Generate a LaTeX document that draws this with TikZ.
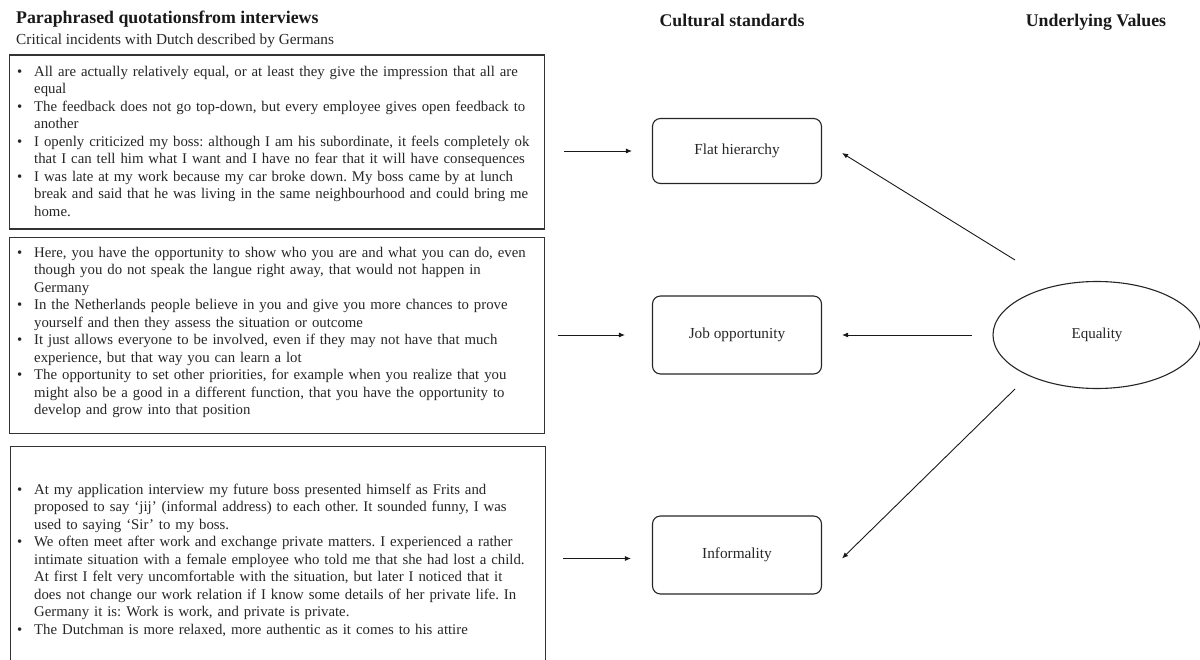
\documentclass[tikz,border=0pt]{standalone}
\usepackage{fontspec}
\setmainfont{Liberation Serif}
\usetikzlibrary{shapes.geometric,calc,arrows.meta}
\newcommand\bul{\par\noindent\hangindent=17pt\hangafter=1\hbox to 17pt{\textbullet\hfil}\ignorespaces}
\begin{document}
\begin{tikzpicture}[x=1pt,y=-1pt,
  qbox/.style={draw=black!80,line width=1.3pt,anchor=north west,inner sep=0pt},
  qtext/.style={anchor=north west,inner sep=0pt,text width=540pt,
    font=\fontsize{14.8}{17.5}\selectfont\frenchspacing,text=black!85},
  stdbox/.style={draw=black!85,line width=1.1pt,rounded corners=8pt,minimum width=169pt,
    font=\fontsize{15.3}{17}\selectfont,text=black!85},
  valnode/.style={ellipse,draw=black!85,line width=1.1pt,minimum width=208pt,minimum height=107pt,
    inner sep=0pt,font=\fontsize{15}{17}\selectfont,text=black!85},
  head/.style={anchor=base,font=\bfseries\fontsize{17.8}{20}\selectfont,text=black!90,inner sep=0pt},
  sub/.style={anchor=base west,font=\fontsize{15.3}{17}\selectfont,text=black!85,inner sep=0pt},
  arr/.style={-{Latex[length=6pt,width=5pt]},line width=0.9pt,draw=black!90}]
\useasboundingbox (0,0) rectangle (1200,660);
% headings
\node[head,anchor=base west] (h1) at (16,24) {Paraphrased quotationsfrom interviews};
\node[sub] (h1s) at (16,45) {Critical incidents with Dutch described by Germans};
\node[head] (h2) at (732,27) {Cultural standards};
\node[head] (h3) at (1096,27) {Underlying Values};
% quotation boxes
\node[qbox,minimum width=535pt,minimum height=174pt] (q1) at (8.5,54.5) {};
\node[qbox,minimum width=535pt,minimum height=196pt] (q2) at (8.5,237) {};
\node[qbox,minimum width=535pt,minimum height=230pt] (q3) at (9.5,446) {};
\node[qtext] (t1) at (17,58.5) {%
\bul All are actually relatively equal, or at least they give the impression that all are\newline equal
\bul The feedback does not go top-down, but every employee gives open feedback to\newline another
\bul I openly criticized my boss: although I am his subordinate, it feels completely ok\newline that I can tell him what I want and I have no fear that it will have consequences
\bul I was late at my work because my car broke down. My boss came by at lunch\newline break and said that he was living in the same neighbourhood and could bring me\newline home.\par};
\node[qtext] (t2) at (17,239.5) {%
\bul Here, you have the opportunity to show who you are and what you can do, even\newline though you do not speak the langue right away, that would not happen in\newline Germany
\bul In the Netherlands people believe in you and give you more chances to prove\newline yourself and then they assess the situation or outcome
\bul It just allows everyone to be involved, even if they may not have that much\newline experience, but that way you can learn a lot
\bul The opportunity to set other priorities, for example when you realize that you\newline might also be a good in a different function, that you have the opportunity to\newline develop and grow into that position\par};
\node[qtext] (t3) at (17,476.5) {%
\bul At my application interview my future boss presented himself as Frits and\newline proposed to say ‘jij’ (informal address) to each other. It sounded funny, I was\newline used to saying ‘Sir’ to my boss.
\bul We often meet after work and exchange private matters. I experienced a rather\newline intimate situation with a female employee who told me that she had lost a child.\newline At first I felt very uncomfortable with the situation, but later I noticed that it\newline does not change our work relation if I know some details of her private life. In\newline Germany it is: Work is work, and private is private.
\bul The Dutchman is more relaxed, more authentic as it comes to his attire\par};
% cultural standards
\node[stdbox,minimum height=65pt] (flat) at (737,151) {Flat hierarchy};
\node[stdbox,minimum height=78pt] (job) at (737,335) {Job opportunity};
\node[stdbox,minimum height=78pt] (inf) at (737,555) {Informality};
% value
\node[valnode] (eq) at (1097,335) {Equality};
\coordinate (eqA) at (1015,260);
\coordinate (eqB) at (1015,389);
% arrows from quotations
\draw[arr,shorten <=19pt,shorten >=20pt] (q1.east |- flat.west) -- (flat.west);
\draw[arr,shorten <=13pt,shorten >=27pt] (q2.east |- job.west) -- (job.west);
\draw[arr,shorten <=17pt,shorten >=21pt] ($(q3.east |- inf.west)+(0,3.5)$) -- ($(inf.west)+(0,3.5)$);
% arrows from value
\draw[arr] (eqA) -- ($(flat.east)+(20,2)$);
\draw[arr,shorten <=20pt,shorten >=20pt] (eq.west) -- (job.east);
\draw[arr] (eqB) -- ($(inf.east)+(20,3.5)$);
\end{tikzpicture}
\end{document}
